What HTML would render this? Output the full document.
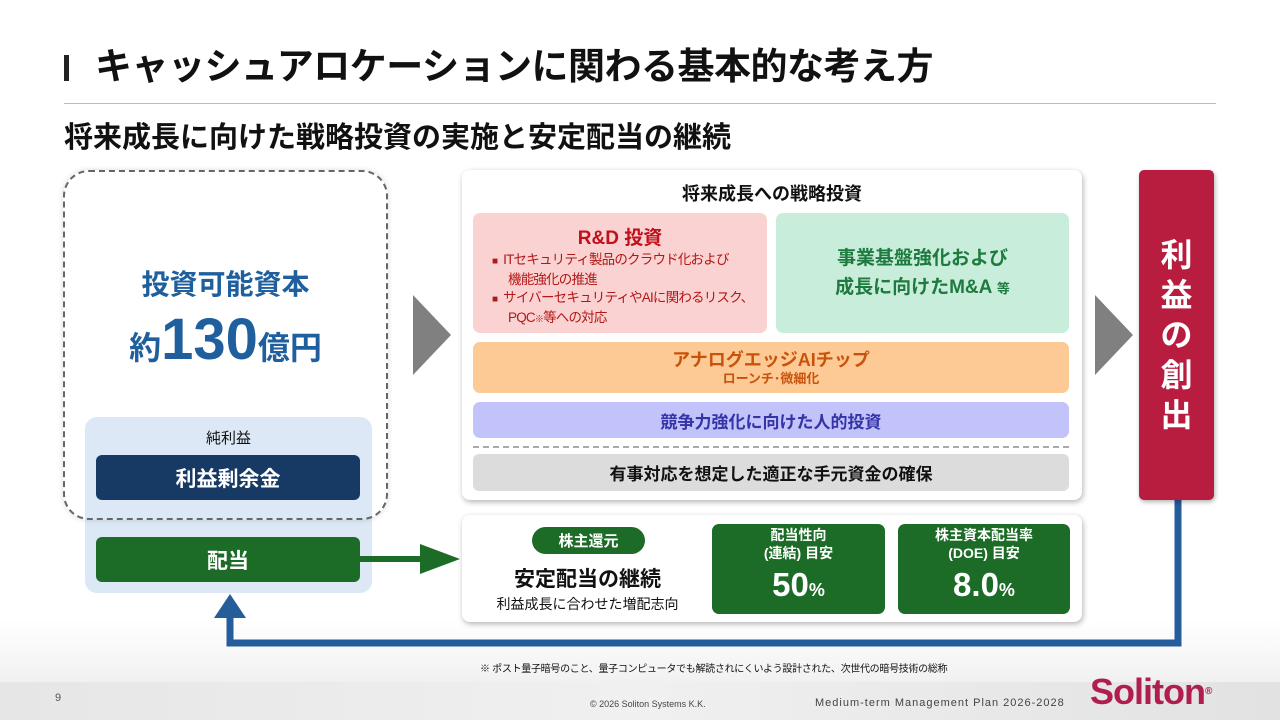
<!DOCTYPE html>
<html><head><meta charset="utf-8"><style>
*{margin:0;padding:0;box-sizing:border-box}
body{width:1280px;height:720px;position:relative;overflow:hidden;background:#fff;font-family:"Liberation Sans","Noto Sans CJK JP",sans-serif;color:#111}
.a{position:absolute}
.c{display:flex;align-items:center;justify-content:center;text-align:center;flex-direction:column}
.b{font-weight:bold}
</style></head><body>
<div class="a" style="left:0;top:620px;width:1280px;height:100px;background:linear-gradient(#fff,#f4f4f4 50%,#e6e6e6)"></div>
<div class="a" style="left:0;top:682px;width:1280px;height:38px;background:linear-gradient(90deg,#e6e6e6,#f0f0f0 50%,#e2e2e2)"></div>

<div class="a" style="left:64px;top:55px;width:5px;height:26px;background:#222"></div>
<div class="a b" style="left:95px;top:43px;font-size:37px;line-height:48px;letter-spacing:-0.5px;white-space:nowrap">キャッシュアロケーションに関わる基本的な考え方</div>
<div class="a" style="left:64px;top:103px;width:1152px;height:1px;background:#bbb"></div>
<div class="a b" style="left:64px;top:119px;font-size:29px;line-height:38px;white-space:nowrap;letter-spacing:0px">将来成長に向けた戦略投資の実施と安定配当の継続</div>

<!-- left -->
<div class="a" style="left:85px;top:417px;width:287px;height:176px;background:#dce8f5;border-radius:12px"></div>
<div class="a" style="left:63px;top:170px;width:325px;height:350px;border:2px dashed #666;border-radius:26px;box-shadow:0 0 6px rgba(0,0,0,.15)"></div>
<div class="a c b" style="left:63px;top:262px;width:325px;height:42px;font-size:28px;color:#1f5f9e">投資可能資本</div>
<div class="a c b" style="left:63px;top:306px;width:325px;height:62px;color:#1f5f9e;flex-direction:row;align-items:baseline"><span style="font-size:32px">約</span><span style="font-size:58px">130</span><span style="font-size:32px">億円</span></div>
<div class="a c" style="left:85px;top:426px;width:287px;height:22px;font-size:15px">純利益</div>
<div class="a c b" style="left:96px;top:455px;width:264px;height:45px;background:#173a65;border-radius:6px;color:#fff;font-size:21px">利益剰余金</div>
<div class="a c b" style="left:96px;top:537px;width:264px;height:45px;background:#1c6b27;border-radius:6px;color:#fff;font-size:21px">配当</div>

<svg class="a" style="left:0;top:0" width="1280" height="720">
<rect x="360" y="556" width="64" height="6" fill="#1c6b27"/>
<polygon points="420,544 460,559 420,574" fill="#1c6b27"/>
<polygon points="413,295 451,335 413,375" fill="#808080"/>
<polygon points="1095,295 1133,335 1095,375" fill="#808080"/>
<polyline points="1178,498 1178,643 230,643 230,612" fill="none" stroke="#245d99" stroke-width="7"/>
<polygon points="214,618 230,594 246,618" fill="#245d99"/>
</svg>

<!-- main card -->
<div class="a" style="left:462px;top:170px;width:620px;height:330px;background:#fff;border-radius:8px;box-shadow:1px 2px 6px rgba(0,0,0,.3)"></div>
<div class="a c b" style="left:462px;top:180px;width:620px;height:26px;font-size:18px">将来成長への戦略投資</div>
<div class="a" style="left:473px;top:213px;width:294px;height:120px;background:#fbd2d2;border-radius:7px"></div>
<div class="a c b" style="left:473px;top:222px;width:294px;height:28px;font-size:19px;color:#c0101a">R&amp;D 投資</div>
<div class="a" style="left:492px;top:251px;width:272px;font-size:13.5px;line-height:18px;color:#b21818;letter-spacing:-0.8px;white-space:nowrap">
<div><span style="font-size:10px">■</span>&nbsp; ITセキュリティ製品のクラウド化および</div>
<div style="padding-left:16px">機能強化の推進</div>
<div><span style="font-size:10px">■</span>&nbsp; サイバーセキュリティやAIに関わるリスク、</div>
<div style="padding-left:16px">PQC<span style="font-size:9px">※</span>等への対応</div>
</div>
<div class="a c b" style="left:776px;top:213px;width:293px;height:120px;background:#c8eedb;border-radius:7px;color:#1e7a3e;font-size:19px;line-height:29px;white-space:nowrap"><div>事業基盤強化および<br>成長に向けたM&amp;A <span style="font-size:13px">等</span></div></div>
<div class="a c b" style="left:473px;top:342px;width:596px;height:51px;background:#fdc995;border-radius:7px;color:#c8540c;font-size:18px;line-height:22px">アナログエッジAIチップ<span style="font-size:13px;line-height:16px">ローンチ･微細化</span></div>
<div class="a c b" style="left:473px;top:402px;width:596px;height:36px;background:#c3c3fb;border-radius:7px;color:#3434a6;font-size:17px">競争力強化に向けた人的投資</div>
<div class="a" style="left:473px;top:446px;width:596px;border-top:2px dashed #aaa"></div>
<div class="a c b" style="left:473px;top:454px;width:596px;height:37px;background:#dcdcdc;border-radius:6px;font-size:17px">有事対応を想定した適正な手元資金の確保</div>

<!-- lower card -->
<div class="a" style="left:462px;top:515px;width:620px;height:107px;background:#fff;border-radius:8px;box-shadow:1px 2px 6px rgba(0,0,0,.3)"></div>
<div class="a c b" style="left:532px;top:527px;width:113px;height:27px;background:#1c6b27;border-radius:14px;color:#fff;font-size:15px">株主還元</div>
<div class="a c b" style="left:470px;top:563px;width:235px;height:30px;font-size:21px">安定配当の継続</div>
<div class="a c" style="left:470px;top:594px;width:235px;height:20px;font-size:14px">利益成長に合わせた増配志向</div>
<div class="a c b" style="left:712px;top:524px;width:173px;height:90px;background:#1c6b27;border-radius:7px;color:#fff;font-size:14px;line-height:18px">配当性向<br>(連結) 目安<span style="font-size:33px;line-height:46px">50<span style="font-size:18px">%</span></span></div>
<div class="a c b" style="left:898px;top:524px;width:172px;height:90px;background:#1c6b27;border-radius:7px;color:#fff;font-size:14px;line-height:18px">株主資本配当率<br>(DOE) 目安<span style="font-size:33px;line-height:46px">8.0<span style="font-size:18px">%</span></span></div>

<!-- red bar -->
<div class="a c b" style="left:1139px;top:170px;width:75px;height:330px;background:#b81c3e;border-radius:5px;color:#fff;font-size:32px;line-height:40px;box-shadow:1px 2px 5px rgba(0,0,0,.3)">利<br>益<br>の<br>創<br>出</div>

<div class="a" style="left:480px;top:660px;font-size:10px;white-space:nowrap;letter-spacing:-0.3px">※ ポスト量子暗号のこと、量子コンピュータでも解読されにくいよう設計された、次世代の暗号技術の総称</div>
<div class="a" style="left:55px;top:692px;font-size:11px;color:#555">9</div>
<div class="a" style="left:590px;top:699px;font-size:9px;color:#444">© 2026 Soliton Systems K.K.</div>
<div class="a" style="left:815px;top:697px;font-size:11px;color:#444;letter-spacing:1px">Medium-term Management Plan 2026-2028</div>
<div class="a b" style="left:1090px;top:670px;font-size:36px;color:#b01e4e;letter-spacing:-1px;line-height:44px">Soliton<span style="font-size:10px;vertical-align:top">®</span></div>
</body></html>
